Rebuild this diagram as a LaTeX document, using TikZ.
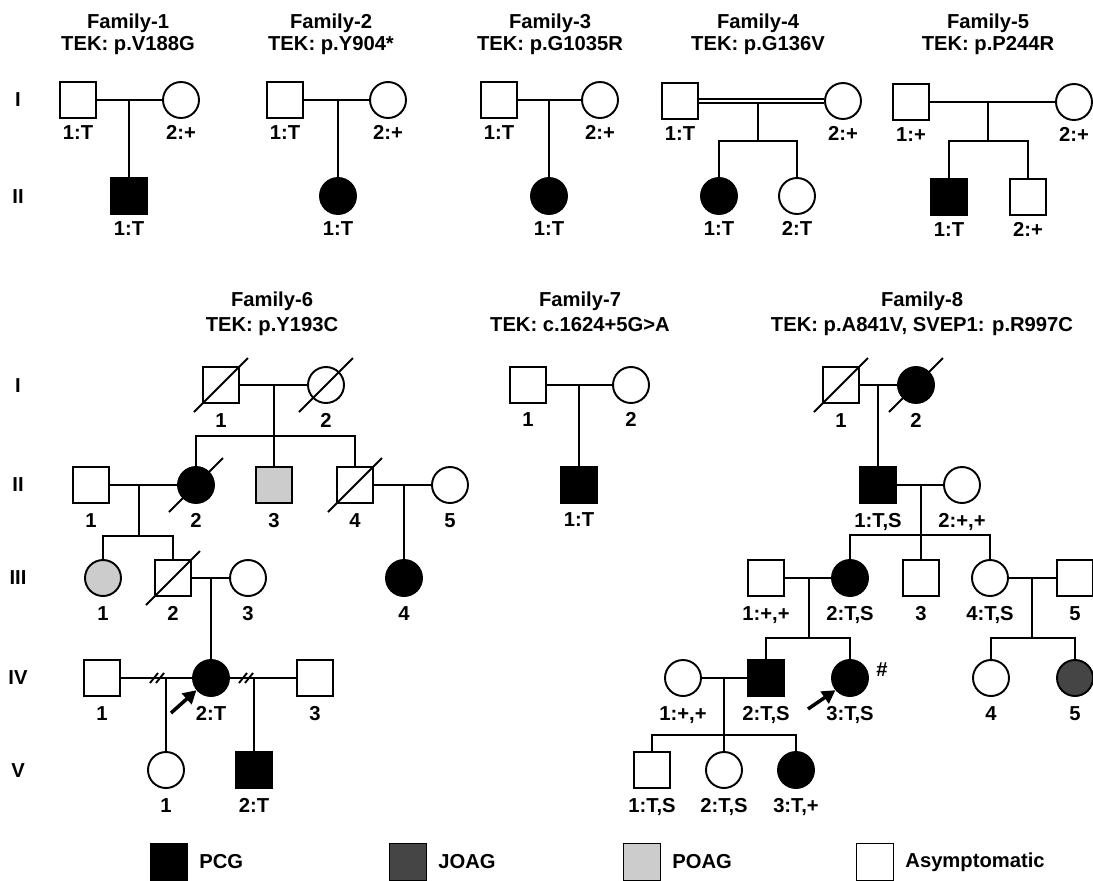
\documentclass[tikz,border=0pt]{standalone}
\usepackage{fontspec}
\setmainfont{Liberation Sans}
\usetikzlibrary{arrows.meta,positioning}
\definecolor{joag}{gray}{0.27}
\definecolor{poag}{gray}{0.8}
\tikzset{
  ind/.style={draw,fill=white,inner sep=0pt,minimum size=0.72cm},
  male/.style={ind,rectangle},
  fem/.style={ind,circle},
  pcg/.style={fill=black},
  jo/.style={fill=joag},
  po/.style={fill=poag},
  asym/.style={},
  lbl/.style={anchor=base,inner sep=0pt},
  proband/.style={-{Triangle[length=7.5pt,width=8pt]},line width=2pt},
}
\newcommand{\deceased}[1]{\draw (#1) ++(-27,27) -- ++(54,-54);}
\newcommand{\separated}[1]{\foreach \d in {-3,3}{\draw (#1) ++(\d-4,5) -- ++(8,-10);}}
\begin{document}
\begin{tikzpicture}[x=0.02cm,y=-0.02cm,line width=1.1pt,font=\fontsize{11.5}{14}\selectfont\bfseries]
  \useasboundingbox (0,0) rectangle (1093,880);
  \foreach \y/\g in {100/I,197/II,386/I,485/II,578/III,678/IV,771/V}{
    \node[inner sep=0pt] (G\y) at (18,\y) {\g};
  }
  % top row
  \foreach \x/\n/\t in {128/1/TEK: p.V188G, 331/2/TEK: p.Y904*, 550/3/TEK: p.G1035R, 758/4/TEK: p.G136V, 988/5/TEK: p.P244R}{
    \node[lbl] (T\n) at (\x,28) {Family-\n};
    \node[lbl] (TT\n) at (\x,50) {\t};
  }
  \begin{scope}
    \node[male] (F1a) at (78,100) {};
    \node[fem] (F1b) at (181,100) {};
    \node[male,pcg] (F1c) at (129,196) {};
    \coordinate (F1m) at (129,100);
    \draw (F1a) -- (F1b) (F1m) -- (F1c);
    \node[male] (F2a) at (285,100) {};
    \node[fem] (F2b) at (388,100) {};
    \node[fem,pcg] (F2c) at (338,196) {};
    \coordinate (F2m) at (338,100);
    \draw (F2a) -- (F2b) (F2m) -- (F2c);
    \node[male] (F3a) at (499,100) {};
    \node[fem] (F3b) at (600,100) {};
    \node[fem,pcg] (F3c) at (549,196) {};
    \coordinate (F3m) at (549,100);
    \draw (F3a) -- (F3b) (F3m) -- (F3c);
    \node[male] (F4a) at (680,101) {};
    \node[fem] (F4b) at (843,101) {};
    \node[fem,pcg] (F4c) at (719,196) {};
    \node[fem] (F4d) at (797,196) {};
    \coordinate (F4m) at (758,103);
    \coordinate (F4s) at (758,141);
    \draw[double,double distance=1.2pt] (F4a) -- (F4b);
    \draw (F4m) -- (F4s);
    \draw (F4c) |- (F4s) -| (F4d);
    \node[male] (F5a) at (911,102) {};
    \node[fem] (F5b) at (1074,102) {};
    \node[male,pcg] (F5c) at (949,197) {};
    \node[male] (F5d) at (1028,197) {};
    \coordinate (F5m) at (988,102);
    \coordinate (F5s) at (988,141);
    \draw (F5a) -- (F5b) (F5m) -- (F5s);
    \draw (F5c) |- (F5s) -| (F5d);
    \foreach \n/\t in {F1a/1:T,F1b/2:+,F1c/1:T,F2a/1:T,F2b/2:+,F2c/1:T,F3a/1:T,F3b/2:+,F3c/1:T,
      F4a/1:T,F4b/2:+,F4c/1:T,F4d/2:T,F5a/1:+,F5b/2:+,F5c/1:T,F5d/2:+}{
      \path (\n) ++(0,39) node[lbl] (L\n) {\t};
    }
  \end{scope}
  % bottom row
  \foreach \x/\n/\t in {272/6/TEK: p.Y193C, 580/7/TEK: c.1624+5G>A, 922/8/{TEK: p.A841V, SVEP1: p.R997C}}{
    \node[lbl] (T\n) at (\x,306) {Family-\n};
    \node[lbl] (TT\n) at (\x,331) {\t};
  }
  \begin{scope}
    \node[male] (F6I1) at (221,385) {};
    \node[fem] (F6I2) at (326,385) {};
    \node[male] (F6II1) at (91,485) {};
    \node[fem,pcg] (F6II2) at (196,485) {};
    \node[male,po] (F6II3) at (274,485) {};
    \node[male] (F6II4) at (355,485) {};
    \node[fem] (F6II5) at (450,485) {};
    \node[fem,po] (F6III1) at (103,578) {};
    \node[male] (F6III2) at (173,578) {};
    \node[fem] (F6III3) at (248,578) {};
    \node[fem,pcg] (F6III4) at (404,578) {};
    \node[male] (F6IV1) at (102,678) {};
    \node[fem,pcg] (F6IV2) at (211,678) {};
    \node[male] (F6IV3) at (315,678) {};
    \node[fem] (F6V1) at (166,770) {};
    \node[male,pcg] (F6V2) at (254,770) {};
    \coordinate (F6m1) at (274,385);
    \coordinate (F6s1) at (274,436);
    \coordinate (F6m2) at (139,485);
    \coordinate (F6s2) at (139,536);
    \coordinate (F6m3) at (404,485);
    \coordinate (F6m4) at (211,578);
    \coordinate (F6m5) at (166,678);
    \coordinate (F6m6) at (254,678);
    \draw (F6I1) -- (F6I2) (F6m1) -- (F6s1) (F6s1) -- (F6II3);
    \draw (F6II2) |- (F6s1) -| (F6II4);
    \draw (F6II1) -- (F6II2) (F6m2) -- (F6s2);
    \draw (F6III1) |- (F6s2) -| (F6III2);
    \draw (F6II4) -- (F6II5) (F6m3) -- (F6III4);
    \draw (F6III2) -- (F6III3) (F6m4) -- (F6IV2);
    \draw (F6IV1) -- (F6IV2) (F6m5) -- (F6V1);
    \draw (F6IV2) -- (F6IV3) (F6m6) -- (F6V2);
    \separated{157,678}
    \separated{246,678}
    \foreach \n in {F6I1,F6I2,F6II2,F6II4,F6III2}{\deceased{\n}}
    \coordinate (F6p) at (171,713);
    \draw[proband] (F6p) -- (F6IV2.220);
    \foreach \n/\t in {F6I1/1,F6I2/2,F6II1/1,F6II2/2,F6II3/3,F6II4/4,F6II5/5,F6III1/1,F6III2/2,F6III3/3,F6III4/4,
      F6IV1/1,F6IV2/2:T,F6IV3/3,F6V1/1,F6V2/2:T}{
      \path (\n) ++(0,42) node[lbl] (L\n) {\t};
    }
  \end{scope}
  \begin{scope}
    \node[male] (F7I1) at (528,385) {};
    \node[fem] (F7I2) at (631,385) {};
    \node[male,pcg] (F7II1) at (579,485) {};
    \coordinate (F7m) at (579,385);
    \draw (F7I1) -- (F7I2) (F7m) -- (F7II1);
    \foreach \n/\t in {F7I1/1,F7I2/2,F7II1/1:T}{
      \path (\n) ++(0,41) node[lbl] (L\n) {\t};
    }
  \end{scope}
  \begin{scope}
    \node[male] (F8I1) at (841,385) {};
    \node[fem,pcg] (F8I2) at (916,385) {};
    \node[male,pcg] (F8II1) at (878,485) {};
    \node[fem] (F8II2) at (962,485) {};
    \node[male] (F8III1) at (766,578) {};
    \node[fem,pcg] (F8III2) at (850,578) {};
    \node[male] (F8III3) at (921,578) {};
    \node[fem] (F8III4) at (990,578) {};
    \node[male] (F8III5) at (1075,578) {};
    \node[fem] (F8IV1) at (683,678) {};
    \node[male,pcg] (F8IV2) at (766,678) {};
    \node[fem,pcg] (F8IV3) at (850,678) {};
    \node[fem] (F8IV4) at (991,678) {};
    \node[fem,jo] (F8IV5) at (1075,678) {};
    \node[male] (F8V1) at (652,770) {};
    \node[fem] (F8V2) at (724,770) {};
    \node[fem,pcg] (F8V3) at (796,770) {};
    \node[inner sep=0pt] (hash) at (882,670) {\#};
    \coordinate (F8m1) at (878,385);
    \coordinate (F8m2) at (921,485);
    \coordinate (F8s2) at (921,535);
    \coordinate (F8m3) at (809,578);
    \coordinate (F8s3) at (809,638);
    \coordinate (F8m4) at (1032,578);
    \coordinate (F8s4) at (1032,638);
    \coordinate (F8m5) at (724,678);
    \coordinate (F8s5) at (724,735);
    \draw (F8I1) -- (F8I2) (F8m1) -- (F8II1);
    \draw (F8II1) -- (F8II2) (F8m2) -- (F8s2) (F8s2) -- (F8III3);
    \draw (F8III2) |- (F8s2) -| (F8III4);
    \draw (F8III1) -- (F8III2) (F8m3) -- (F8s3);
    \draw (F8IV2) |- (F8s3) -| (F8IV3);
    \draw (F8III4) -- (F8III5) (F8m4) -- (F8s4);
    \draw (F8IV4) |- (F8s4) -| (F8IV5);
    \draw (F8IV1) -- (F8IV2) (F8m5) -- (F8s5) (F8s5) -- (F8V2);
    \draw (F8V1) |- (F8s5) -| (F8V3);
    \foreach \n in {F8I1,F8I2}{\deceased{\n}}
    \coordinate (F8p) at (808,709);
    \draw[proband] (F8p) -- (F8IV3.220);
    \foreach \n/\t in {F8I1/1,F8I2/2,F8II1/{1:T,S},F8II2/{2:+,+},F8III1/{1:+,+},F8III2/{2:T,S},F8III3/3,
      F8III4/{4:T,S},F8III5/5,F8IV1/{1:+,+},F8IV2/{2:T,S},F8IV3/{3:T,S},F8IV4/4,F8IV5/5,
      F8V1/{1:T,S},F8V2/{2:T,S},F8V3/{3:T,+}}{
      \path (\n) ++(0,42) node[lbl] (L\n) {\t};
    }
  \end{scope}
  % legend
  \foreach \x/\s/\t in {169/pcg/PCG, 408/jo/JOAG, 642/po/POAG, 875/asym/Asymptomatic}{
    \node[male,\s,minimum size=0.74cm] (K\x) at (\x,862) {};
    \node[right=0.2cm of K\x,inner sep=0pt] (KT\x) {\t};
  }
\end{tikzpicture}
\end{document}
